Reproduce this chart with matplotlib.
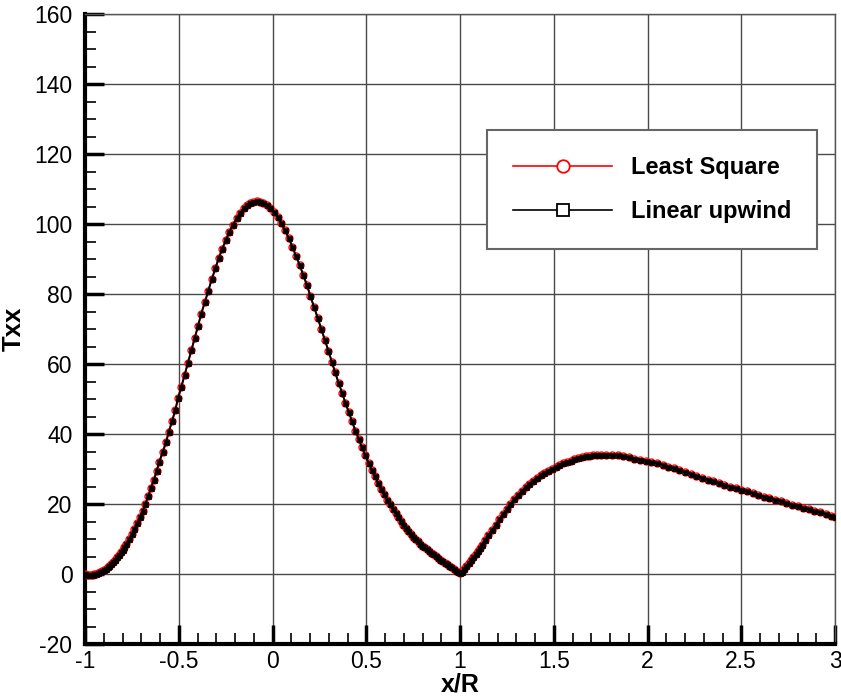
import matplotlib
matplotlib.use("Agg")
import matplotlib.pyplot as plt
from matplotlib.lines import Line2D

plt.rcParams['font.family'] = ['Liberation Sans', 'DejaVu Sans']
plt.rcParams['axes.unicode_minus'] = False

# Sample positions along the line (x/R) and the normal stress Txx
x_over_r = [
    -1.00, -0.99, -0.98, -0.97, -0.96, -0.95, -0.94, -0.93, -0.92, -0.91,
    -0.90, -0.89, -0.88, -0.87, -0.86, -0.85, -0.84, -0.83, -0.82, -0.81,
    -0.80, -0.79, -0.78, -0.765, -0.751, -0.737, -0.721, -0.707, -0.692, -0.678,
    -0.662, -0.650, -0.632, -0.618, -0.604, -0.586, -0.568, -0.554, -0.536, -0.518,
    -0.504, -0.486, -0.468, -0.451, -0.433, -0.415, -0.397, -0.380, -0.360, -0.342,
    -0.324, -0.305, -0.287, -0.268, -0.248, -0.230, -0.212, -0.191, -0.173, -0.154,
    -0.138, -0.121, -0.103, -0.085, -0.068, -0.050, -0.031, -0.012, 0.008, 0.028,
    0.047, 0.067, 0.086, 0.106, 0.125, 0.145, 0.164, 0.184, 0.202, 0.221,
    0.241, 0.260, 0.279, 0.298, 0.316, 0.334, 0.352, 0.371, 0.388, 0.407,
    0.424, 0.442, 0.460, 0.477, 0.495, 0.512, 0.529, 0.546, 0.563, 0.579,
    0.595, 0.611, 0.626, 0.641, 0.656, 0.670, 0.684, 0.698, 0.711, 0.724,
    0.737, 0.750, 0.762, 0.774, 0.786, 0.798, 0.810, 0.822, 0.834, 0.846,
    0.858, 0.870, 0.882, 0.894, 0.906, 0.918, 0.930, 0.942, 0.954, 0.966,
    0.978, 0.990, 1.000, 1.010, 1.022, 1.034, 1.046, 1.058, 1.071, 1.083,
    1.094, 1.105, 1.116, 1.133, 1.151, 1.171, 1.190, 1.210, 1.229, 1.249,
    1.268, 1.289, 1.310, 1.330, 1.350, 1.370, 1.390, 1.410, 1.430, 1.450,
    1.470, 1.490, 1.510, 1.530, 1.550, 1.570, 1.590, 1.610, 1.630, 1.650,
    1.670, 1.690, 1.710, 1.730, 1.750, 1.780, 1.810, 1.840, 1.870, 1.900,
    1.930, 1.960, 1.990, 2.020, 2.050, 2.080, 2.110, 2.140, 2.170, 2.200,
    2.230, 2.260, 2.290, 2.320, 2.350, 2.380, 2.410, 2.440, 2.470, 2.500,
    2.530, 2.560, 2.590, 2.620, 2.650, 2.680, 2.710, 2.740, 2.770, 2.800,
    2.830, 2.860, 2.890, 2.920, 2.950, 2.980, 3.000,
]

txx_least_square = [
    -0.1, -0.2, -0.3, -0.3, -0.2, -0.1, 0.1, 0.3, 0.6, 0.9,
    1.2, 1.5, 1.9, 2.4, 2.9, 3.5, 4.1, 4.8, 5.5, 6.2,
    7.0, 7.8, 8.6, 9.9, 11.3, 12.9, 14.5, 16.3, 18.1, 20.1,
    22.2, 24.5, 26.9, 29.4, 32.0, 34.8, 37.6, 40.5, 43.6, 46.9,
    50.2, 53.5, 57.0, 60.4, 63.9, 67.4, 70.9, 74.4, 77.8, 81.0,
    84.2, 87.3, 90.2, 92.9, 95.5, 97.8, 99.7, 101.6, 103.2, 104.5,
    105.3, 106.0, 106.4, 106.6, 106.4, 106.0, 105.4, 104.7, 103.4, 101.9,
    100.2, 98.2, 96.0, 93.5, 90.9, 88.3, 85.4, 82.5, 79.4, 76.4,
    73.2, 70.0, 66.9, 63.8, 60.7, 57.6, 54.7, 51.8, 49.0, 46.3,
    43.6, 41.0, 38.6, 36.2, 33.9, 31.8, 29.8, 27.9, 26.1, 24.4,
    22.8, 21.2, 19.9, 18.6, 17.4, 16.3, 15.1, 14.0, 13.1, 12.2,
    11.4, 10.7, 9.9, 9.3, 8.7, 8.1, 7.6, 7.1, 6.6, 6.1,
    5.6, 5.1, 4.6, 4.1, 3.7, 3.2, 2.8, 2.4, 1.9, 1.5,
    1.0, 0.6, 0.2, 0.7, 1.4, 2.3, 3.2, 4.0, 4.8, 5.7,
    6.6, 7.4, 8.2, 9.7, 11.1, 12.6, 14.0, 15.6, 17.1, 18.6,
    20.0, 21.3, 22.6, 23.7, 24.8, 25.8, 26.7, 27.5, 28.2, 28.9,
    29.5, 30.1, 30.6, 31.2, 31.6, 32.0, 32.4, 32.8, 33.1, 33.4,
    33.6, 33.8, 34.0, 34.1, 34.1, 34.1, 34.0, 33.9, 33.6, 33.3,
    33.0, 32.7, 32.4, 32.0, 31.7, 31.2, 30.7, 30.2, 29.7, 29.1,
    28.6, 28.0, 27.5, 27.0, 26.5, 26.0, 25.5, 25.0, 24.5, 24.1,
    23.6, 23.1, 22.6, 22.1, 21.7, 21.2, 20.8, 20.3, 19.8, 19.4,
    18.9, 18.5, 18.0, 17.6, 17.1, 16.7, 16.4,
]

# The two schemes coincide to plotting accuracy
txx_linear_upwind = list(txx_least_square)

series_labels = ["Least Square", "Linear upwind"]
x_ticks = [-1, -0.5, 0, 0.5, 1, 1.5, 2, 2.5, 3]
x_tick_labels = ["-1", "-0.5", "0", "0.5", "1", "1.5", "2", "2.5", "3"]
y_ticks = [-20, 0, 20, 40, 60, 80, 100, 120, 140, 160]

fig = plt.figure(figsize=(8.41, 6.98), dpi=100)
ax = fig.add_axes([85 / 841, 1 - 644 / 698, 750 / 841, 630 / 698])

ax.plot(x_over_r, txx_least_square, color="red", lw=1.2, marker="o",
        ms=5.0, mfc="none", mec="red", mew=1.0, zorder=3)
ax.plot(x_over_r, txx_linear_upwind, color="black", lw=1.4, marker="s",
        ms=3.6, mfc="black", mec="black", mew=0.5, zorder=4)

ax.set_xlim(-1, 3)
ax.set_ylim(-20, 160)
ax.set_xticks(x_ticks)
ax.set_xticklabels(x_tick_labels)
ax.set_yticks(y_ticks)
ax.set_xticks([v / 10 for v in range(-10, 31)], minor=True)
ax.set_yticks(list(range(-20, 161, 5)), minor=True)

ax.grid(True, which="major", color="#4a4a4a", lw=1.0)
ax.set_axisbelow(True)

ax.tick_params(which="major", direction="in", length=14, width=2.5,
               labelsize=16.5, pad=4, colors="black")
ax.tick_params(which="minor", direction="in", length=8, width=1.2)
ax.tick_params(axis="y", which="major", pad=9)
ax.tick_params(top=False, right=False, which="both")

for side in ("left", "bottom"):
    ax.spines[side].set_linewidth(3)
    ax.spines[side].set_color("black")
for side in ("top", "right"):
    ax.spines[side].set_linewidth(1.0)
    ax.spines[side].set_color("#555555")

ax.set_xlabel("x/R", fontsize=18, fontweight="bold", labelpad=0)
ax.set_ylabel("Txx", fontsize=18.5, fontweight="bold", labelpad=6)

handles = [
    Line2D([], [], color="red", lw=1.2, marker="o", ms=9, mfc="white",
           mec="red", mew=1.3),
    Line2D([], [], color="black", lw=1.2, marker="s", ms=8, mfc="white",
           mec="black", mew=1.3),
]
leg = ax.legend(handles, series_labels, loc="upper left",
                bbox_to_anchor=((487 - 85) / 750, (644 - 130) / 630),
                prop={"size": 17, "weight": "bold"}, frameon=True,
                fancybox=False, framealpha=1, edgecolor="#666666",
                handlelength=4.2, handletextpad=0.8, borderpad=1.1,
                labelspacing=0.9, borderaxespad=0)
leg.get_frame().set_linewidth(1.5)

fig.savefig("out.png", dpi=100)
